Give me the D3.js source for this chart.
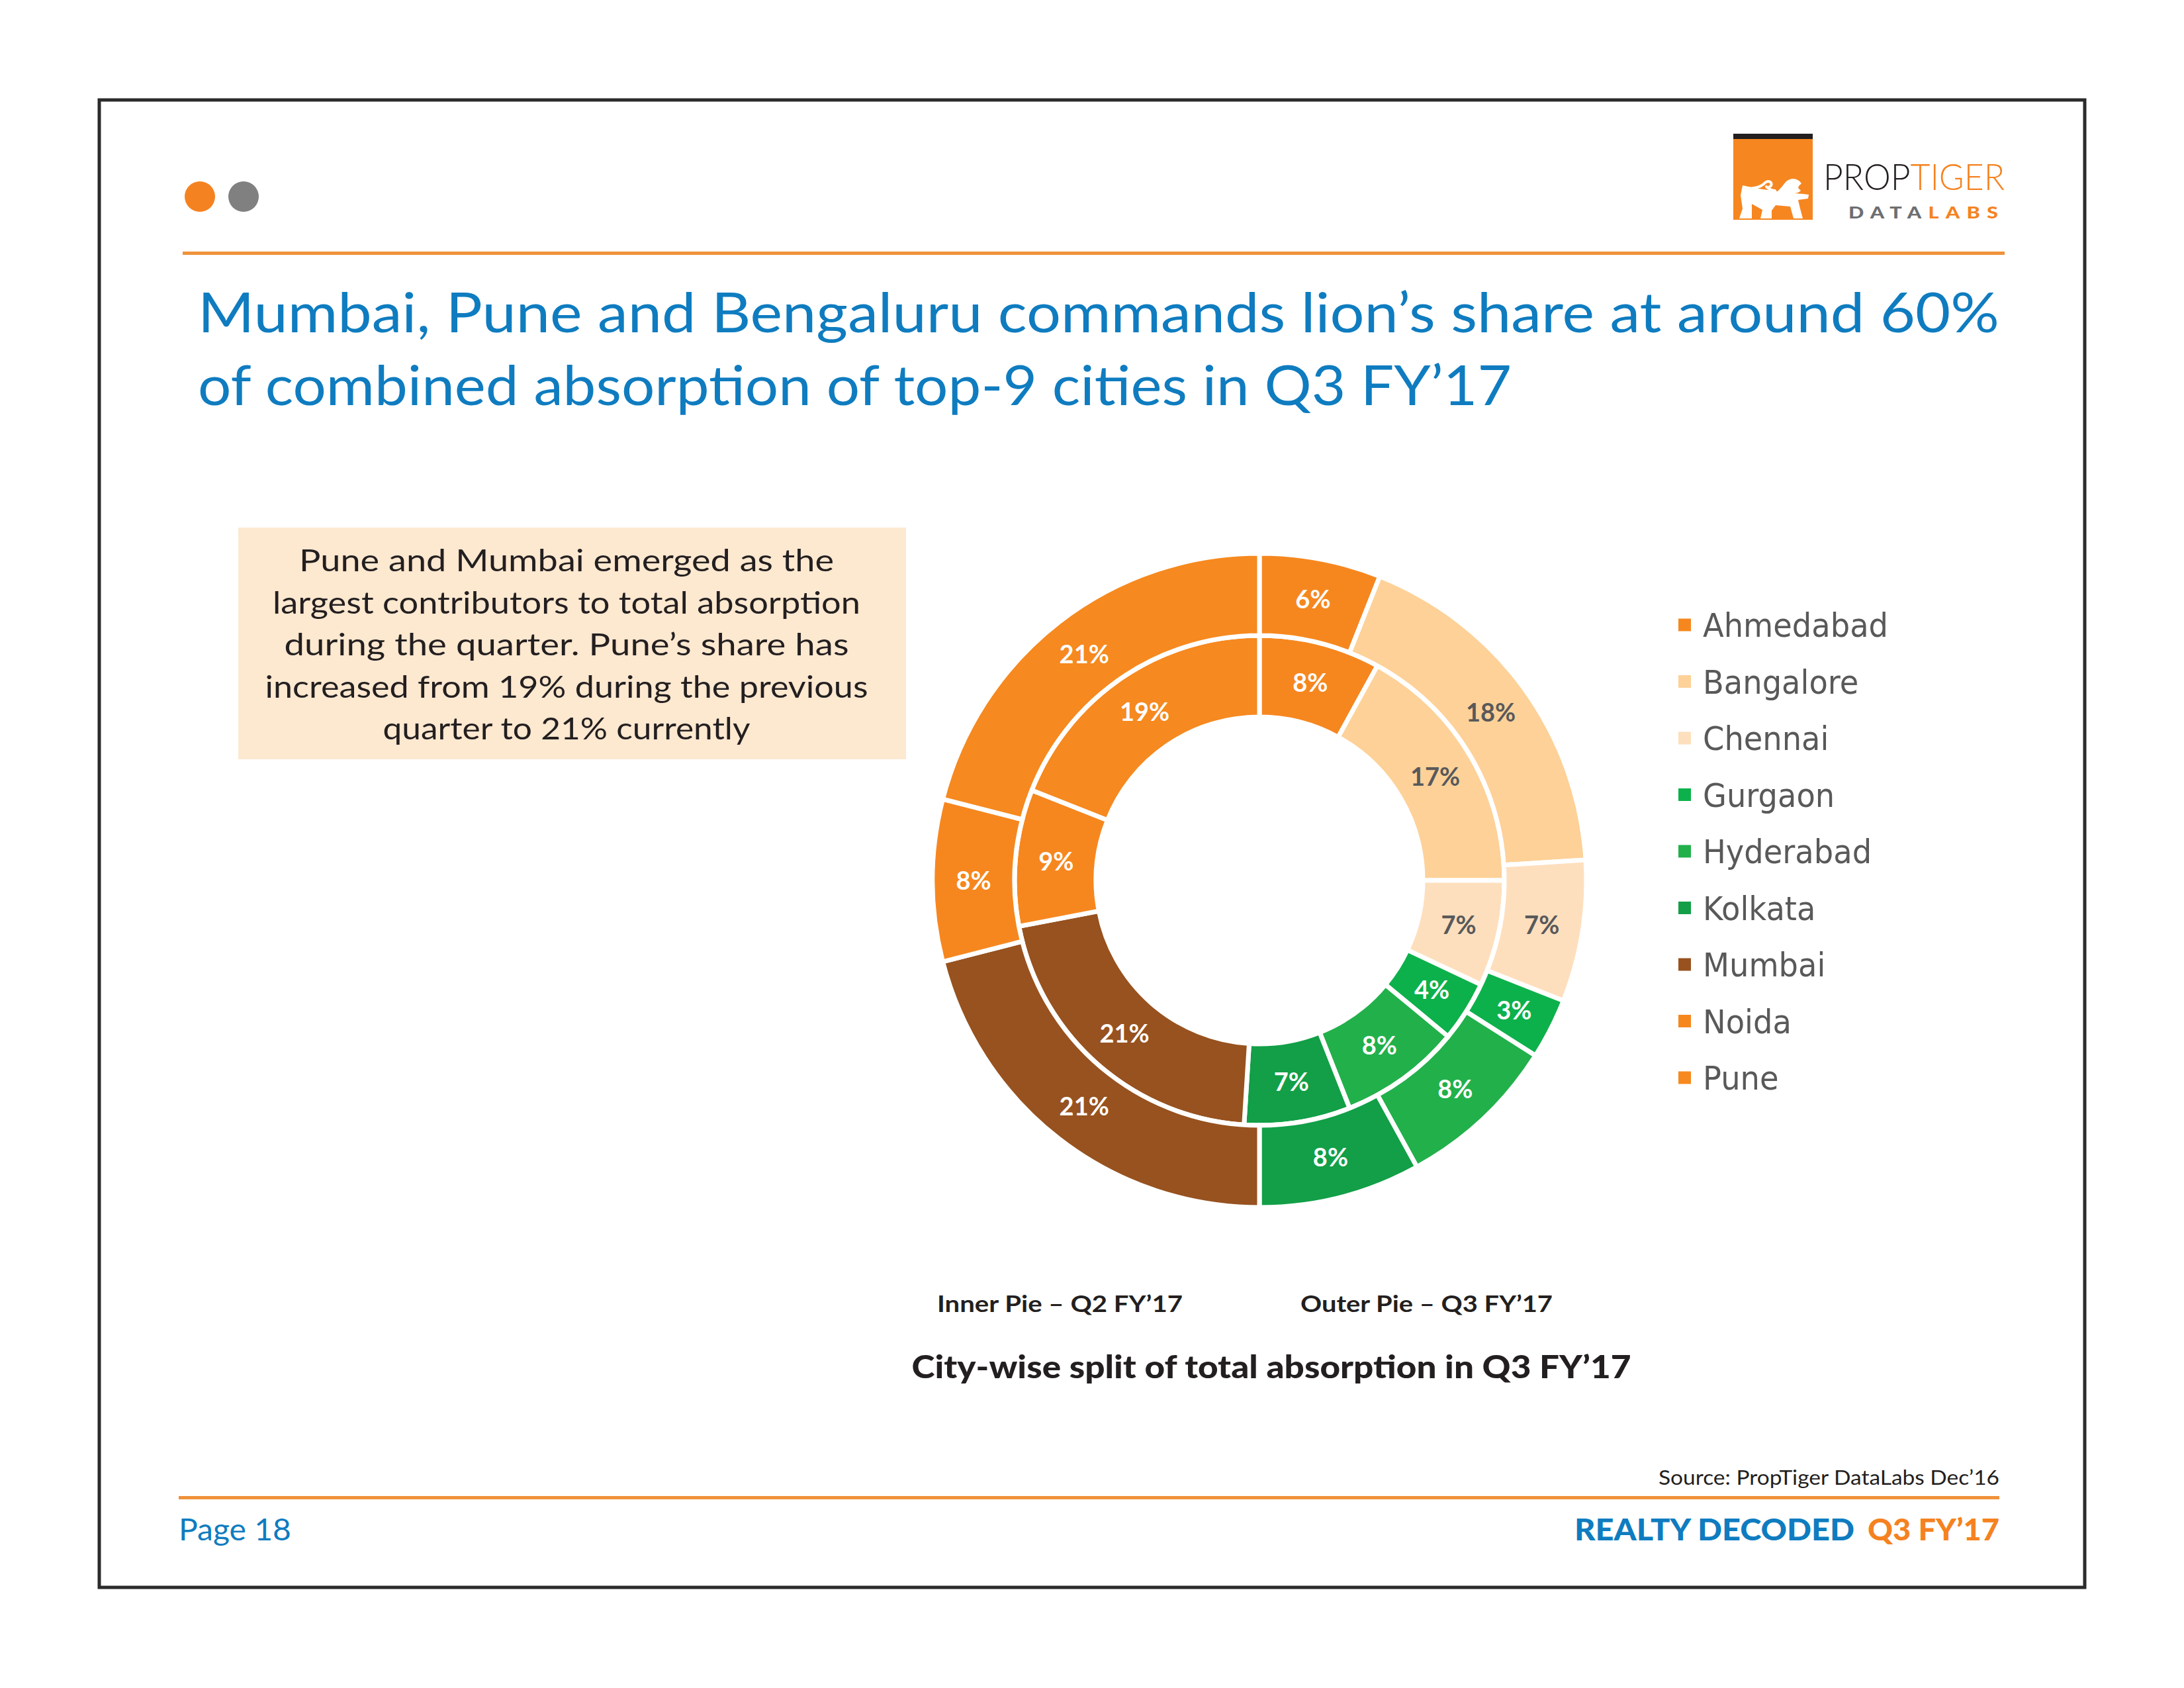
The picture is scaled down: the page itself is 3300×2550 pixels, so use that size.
<!DOCTYPE html>
<html>
<head>
<meta charset="utf-8">
<script src="https://cdn.jsdelivr.net/npm/d3@7"></script>
<style>
  html, body { margin: 0; padding: 0; background: #ffffff; }
  svg { display: block; }
</style>
</head>
<body>
<script>
// ---------------- DATA ----------------
const cities = ["Ahmedabad", "Bangalore", "Chennai", "Gurgaon", "Hyderabad", "Kolkata", "Mumbai", "Noida", "Pune"];
const innerQ2 = [8, 17, 7, 4, 8, 7, 21, 9, 19];   // Inner pie – Q2 FY'17 (%)
const outerQ3 = [6, 18, 7, 3, 8, 8, 21, 8, 21];   // Outer pie – Q3 FY'17 (%)
const cityColors = ["#F6871F", "#FDD198", "#FEDFBD", "#0DB14B", "#22B04B", "#129F47", "#97521F", "#F6871F", "#F6891F"];
const darkLabelCities = ["Bangalore", "Chennai"];

const titleLines = [
  "Mumbai, Pune and Bengaluru commands lion’s share at around 60%",
  "of combined absorption of top-9 cities in Q3 FY’17"
];
const noteLines = [
  "Pune  and Mumbai emerged  as the",
  "largest contributors to total absorption",
  "during the quarter. Pune’s  share has",
  "increased from 19% during the previous",
  "quarter to 21%  currently"
];
const innerCaption = "Inner Pie  – Q2 FY’17";
const outerCaption = "Outer Pie  – Q3 FY’17";
const chartCaption = "City-wise split of total absorption in Q3 FY’17";
const sourceText = "Source: PropTiger DataLabs Dec’16";
const pageText = "Page 18";

// ---------------- SETUP ----------------
const W = 3300, H = 2550;
const svg = d3.select("body").append("svg").attr("width", W).attr("height", H);
svg.append("rect").attr("width", W).attr("height", H).attr("fill", "#ffffff");

const ORANGE = "#F58220", BLUE = "#0F7CC0", DARK = "#231F20";

function fitText(sel, width) {
  sel.attr("textLength", width).attr("lengthAdjust", "spacingAndGlyphs");
  return sel;
}

// page frame
svg.append("rect").attr("x", 150).attr("y", 151).attr("width", 3000).attr("height", 2247)
  .attr("fill", "none").attr("stroke", "#2b2b2b").attr("stroke-width", 5);

// dots
svg.append("circle").attr("cx", 302).attr("cy", 297).attr("r", 23).attr("fill", ORANGE);
svg.append("circle").attr("cx", 368).attr("cy", 297).attr("r", 23).attr("fill", "#808080");

// header rule
svg.append("rect").attr("x", 276).attr("y", 380).attr("width", 2753).attr("height", 5).attr("fill", "#F0923A");

// ---------------- LOGO ----------------
const logo = svg.append("g").attr("transform", "translate(2619,202)");
logo.append("rect").attr("width", 120).attr("height", 130).attr("fill", "#F6861F");
logo.append("rect").attr("width", 120).attr("height", 8).attr("fill", "#231F20");
logo.append("path")
  .attr("d", "M14,78 Q30,82 45,84 L67,87 Q74,80 79,73 Q84,68 91,68 Q99,69 103,75 L99,79 L98,82 L102,86 Q98,90 92,90 L106,91 L114,92 L113,98 L98,100 L101,113 L105,128 L91,128 L86,110 L64,108 L58,116 L58,128 L41,128 L44,115 L28,106 L28,128 L9,128 L14,113 L11,93 Z")
  .attr("fill", "#ffffff");
logo.append("path")
  .attr("d", "M20,83 Q38,83 46,76 Q51,70 56,73 Q60,77 55,80 M50,80 Q56,86 63,86")
  .attr("fill", "none").attr("stroke", "#ffffff").attr("stroke-width", 4).attr("stroke-linecap", "round");

const fontLogo = "Lato, 'Open Sans', sans-serif";
const brand = svg.append("text").attr("x", 2755).attr("y", 287).attr("font-family", fontLogo)
  .attr("font-weight", 300).attr("font-size", 55);
brand.append("tspan").attr("fill", "#231F20").text("PROP");
brand.append("tspan").attr("fill", ORANGE).text("TIGER");
fitText(brand, 274);
const sub = svg.append("text").attr("x", 2793).attr("y", 330).attr("font-family", fontLogo)
  .attr("font-weight", 900).attr("font-size", 24).attr("letter-spacing", 8);
sub.append("tspan").attr("fill", "#6D6E71").text("DATA");
sub.append("tspan").attr("fill", ORANGE).text("LABS");
fitText(sub, 236);

// ---------------- TITLE ----------------
const fontMain = "Lato, 'Noto Sans', sans-serif";
const titleWidths = [2722, 1985];
titleLines.forEach((t, i) => {
  fitText(svg.append("text").attr("x", 299).attr("y", 502 + i * 110)
    .attr("font-family", fontMain).attr("font-size", 84).attr("fill", BLUE).text(t), titleWidths[i]);
});

// ---------------- NOTE BOX ----------------
svg.append("rect").attr("x", 360).attr("y", 797).attr("width", 1009).attr("height", 350).attr("fill", "#FDE8D0");
const noteWidths = [808, 888, 853, 911, 555];
noteLines.forEach((t, i) => {
  fitText(svg.append("text").attr("x", 856).attr("y", 863 + i * 63.5).attr("text-anchor", "middle")
    .attr("font-family", fontMain).attr("font-size", 46).attr("fill", DARK).text(t), noteWidths[i]);
});

// ---------------- DONUT ----------------
const cx = 1903, cy = 1330;
const color = d3.scaleOrdinal().domain(cities).range(cityColors);
const pie = d3.pie().sort(null).value(d => d.v);
const innerData = pie(cities.map((c, i) => ({ city: c, v: innerQ2[i] })));
const outerData = pie(cities.map((c, i) => ({ city: c, v: outerQ3[i] })));
const arcInner = d3.arc().innerRadius(247).outerRadius(370);
const arcOuter = d3.arc().innerRadius(370).outerRadius(494);

const donut = svg.append("g").attr("transform", `translate(${cx},${cy})`);
function ring(data, arc, cls) {
  const g = donut.append("g").attr("class", cls);
  g.selectAll("path").data(data).join("path")
    .attr("d", arc)
    .attr("fill", d => color(d.data.city))
    .attr("stroke", "#ffffff").attr("stroke-width", 7).attr("stroke-linejoin", "miter");
  g.selectAll("text").data(data).join("text")
    .attr("transform", d => `translate(${arc.centroid(d)})`)
    .attr("text-anchor", "middle").attr("dy", "0.36em")
    .attr("font-family", "Lato, 'Open Sans', sans-serif").attr("font-weight", 700)
    .attr("font-size", 38)
    .attr("fill", d => darkLabelCities.includes(d.data.city) ? "#58595B" : "#ffffff")
    .text(d => d.data.v + "%");
}
ring(innerData, arcInner, "inner");
ring(outerData, arcOuter, "outer");

// ---------------- LEGEND ----------------
const ly = d3.scalePoint().domain(cities).range([944, 1628]);
const legend = svg.append("g");
const items = legend.selectAll("g").data(cities).join("g")
  .attr("transform", d => `translate(2536,${ly(d)})`);
items.append("rect").attr("x", 0).attr("y", -9.5).attr("width", 19).attr("height", 19)
  .attr("fill", d => color(d));
const legendTexts = items.append("text").attr("x", 37).attr("dy", "0.36em")
  .attr("font-family", "'DejaVu Sans', sans-serif").attr("font-size", 50).attr("fill", "#595959")
  .text(d => d);
// uniform horizontal scale so "Ahmedabad" spans its measured width
const refW = legendTexts.filter(d => d === "Ahmedabad").node().getComputedTextLength();
const k = 280 / refW;
legendTexts.each(function () {
  const w = this.getComputedTextLength();
  d3.select(this).attr("textLength", w * k).attr("lengthAdjust", "spacingAndGlyphs");
});

// ---------------- CAPTIONS ----------------
fitText(svg.append("text").attr("x", 1416).attr("y", 1982).attr("font-family", fontMain)
  .attr("font-weight", 700).attr("font-size", 35).attr("fill", DARK).text(innerCaption), 371);
fitText(svg.append("text").attr("x", 1965).attr("y", 1982).attr("font-family", fontMain)
  .attr("font-weight", 700).attr("font-size", 35).attr("fill", DARK).text(outerCaption), 381);
fitText(svg.append("text").attr("x", 1921).attr("y", 2082).attr("text-anchor", "middle").attr("font-family", fontMain)
  .attr("font-weight", 900).attr("font-size", 48).attr("fill", DARK).text(chartCaption), 1087);

// ---------------- FOOTER ----------------
fitText(svg.append("text").attr("x", 3021).attr("y", 2243).attr("text-anchor", "end").attr("font-family", fontMain)
  .attr("font-size", 31).attr("fill", "#231F20").text(sourceText), 515);
svg.append("rect").attr("x", 270).attr("y", 2260).attr("width", 2751).attr("height", 5).attr("fill", "#F0923A");
fitText(svg.append("text").attr("x", 270).attr("y", 2327).attr("font-family", fontMain)
  .attr("font-size", 46).attr("fill", BLUE).text(pageText), 170);
fitText(svg.append("text").attr("x", 2379).attr("y", 2327).attr("font-family", fontMain)
  .attr("font-weight", 900).attr("font-size", 46).attr("fill", BLUE).text("REALTY DECODED"), 423);
fitText(svg.append("text").attr("x", 2822).attr("y", 2327).attr("font-family", fontMain)
  .attr("font-weight", 900).attr("font-size", 46).attr("fill", ORANGE).text("Q3 FY’17"), 199);
</script>
</body>
</html>
